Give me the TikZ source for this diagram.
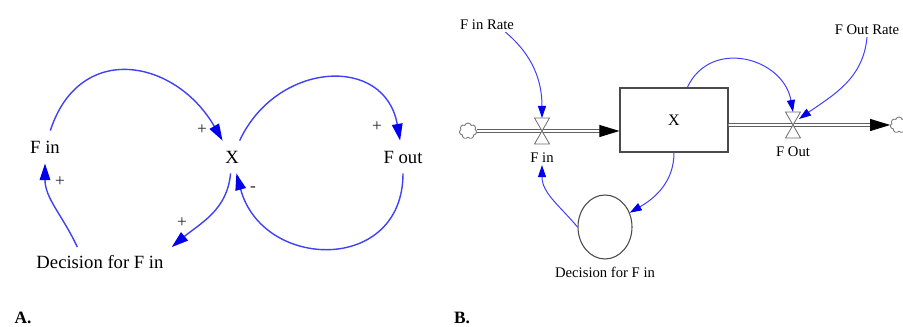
\documentclass[tikz,border=0pt]{standalone}
\usepackage{fontspec}
\setmainfont{Liberation Serif}
\usetikzlibrary{arrows.meta, positioning, shapes.geometric, shapes.symbols}
\definecolor{linkBlue}{HTML}{4040F8}
\definecolor{tipBlue}{HTML}{0000EE}
\definecolor{pipeGray}{HTML}{4A4A4A}
\tikzset{
    var_a/.style={inner sep=7.5pt, font=\fontsize{14}{16}\selectfont},
    var_b/.style={inner sep=1.5pt, font=\fontsize{11}{13}\selectfont},
    sign_lbl/.style={inner sep=0pt, font=\fontsize{13}{15}\selectfont, text=black!85},
    panel_lbl/.style={inner sep=0pt, font=\fontsize{13}{15}\selectfont\bfseries},
    link_a/.style={draw=linkBlue, line width=1.05pt, -{Triangle[length=12.5pt, width=8pt, color=tipBlue]}},
    link_b/.style={draw=linkBlue, line width=0.75pt, -{Triangle[length=9pt, width=6pt, color=tipBlue]}},
    stock_box/.style={rectangle, draw=pipeGray, line width=0.9pt, minimum width=81pt, minimum height=48pt, inner sep=0pt, font=\fontsize{12}{14}\selectfont},
    aux_circle/.style={ellipse, draw=pipeGray, line width=0.8pt, minimum width=40.5pt, minimum height=48pt, inner sep=0pt},
    pipe_flow/.style={draw=pipeGray, line width=0.6pt, double=white, double distance=1.7pt, -{Triangle[length=15pt, width=9pt, color=black]}},
    cloud_src/.style={cloud, cloud puffs=7, draw=gray, line width=0.7pt, minimum width=13pt, minimum height=12pt, inner sep=0pt, aspect=1},
    valve_tri/.style={draw=pipeGray!80, line width=0.6pt, fill=white},
    valve/.pic={
        \draw[valve_tri] (0,0) -- (-7.5,13) -- (7.5,13) -- cycle;
        \draw[valve_tri] (0,0) -- (-7.5,-13) -- (7.5,-13) -- cycle;
        \coordinate (-top) at (0,13);
        \coordinate (-rt) at (6,6);
    }
}

\begin{document}
\begin{tikzpicture}[x=0.75pt, y=0.75pt]
    \useasboundingbox (0,0) rectangle (903,327);

    % A: causal loop diagram
    \node[var_a] (fin) at (45,180) {F in};
    \node[var_a] (x) at (232,170) {X};
    \node[var_a] (fout) at (403,170) {F out};
    \node[var_a, inner sep=6pt] (dec) at (100,65) {Decision for F in};

    \draw[link_a] (fin) to[out=72, in=120, looseness=1.4] (x);
    \draw[link_a] (x) to[out=65, in=100, looseness=1.4] (fout);
    \draw[link_a] (fout) to[out=-90, in=-75, looseness=1.55] (x);
    \draw[link_a] (x) to[out=-95, in=40] (dec.north east);
    \draw[link_a] ([xshift=-17pt]dec.north) to[out=115, in=-90] (fin);

    % polarity signs
    \node[sign_lbl] (s1) at (202,197) {+};
    \node[sign_lbl] (s2) at (377,200) {+};
    \node[sign_lbl] (s3) at (60,145) {+};
    \node[sign_lbl] (s4) at (182,104) {+};
    \node[sign_lbl] (s5) at (253,138) {-};

    % B: stock and flow diagram
    \node[var_b] (finrate) at (487,302) {F in Rate};
    \node[var_b] (foutrate) at (867,297) {F Out Rate};
    \node[stock_box] (stock) at (674,207) {X};
    \node[cloud_src] (cloudl) at (468,196) {};
    \node[cloud_src] (cloudr) at (899,202) {};

    % material pipes
    \draw[pipe_flow] (cloudl) -- (stock.west |- cloudl);
    \draw[pipe_flow] (stock.east |- cloudr) -- (cloudr);
    \pic (vin) at (542,196) {valve};
    \pic (vout) at (793,202) {valve};

    \node[var_b] (finlbl) at (542,169) {F in};
    \node[var_b] (foutlbl) at (793,175) {F Out};
    \node[aux_circle] (aux) at (605,100) {};
    \node[var_b] (declbl) at (605,55) {Decision for F in};

    % information links
    \draw[link_b] ([xshift=-8pt]finrate.south east) to[out=-40, in=90] (vin-top);
    \draw[link_b] (foutrate.south) to[out=-95, in=35] (vout-rt);
    \draw[link_b] ([xshift=10pt]stock.north) to[out=65, in=100, looseness=1.3] (vout-top);
    \draw[link_b] (stock.south) to[out=-90, in=30] (aux);
    \draw[link_b] (aux.west) to[out=130, in=-90] (finlbl);

    \node[panel_lbl] (pa) at (23,9) {A.};
    \node[panel_lbl] (pb) at (462,9) {B.};
\end{tikzpicture}
\end{document}
